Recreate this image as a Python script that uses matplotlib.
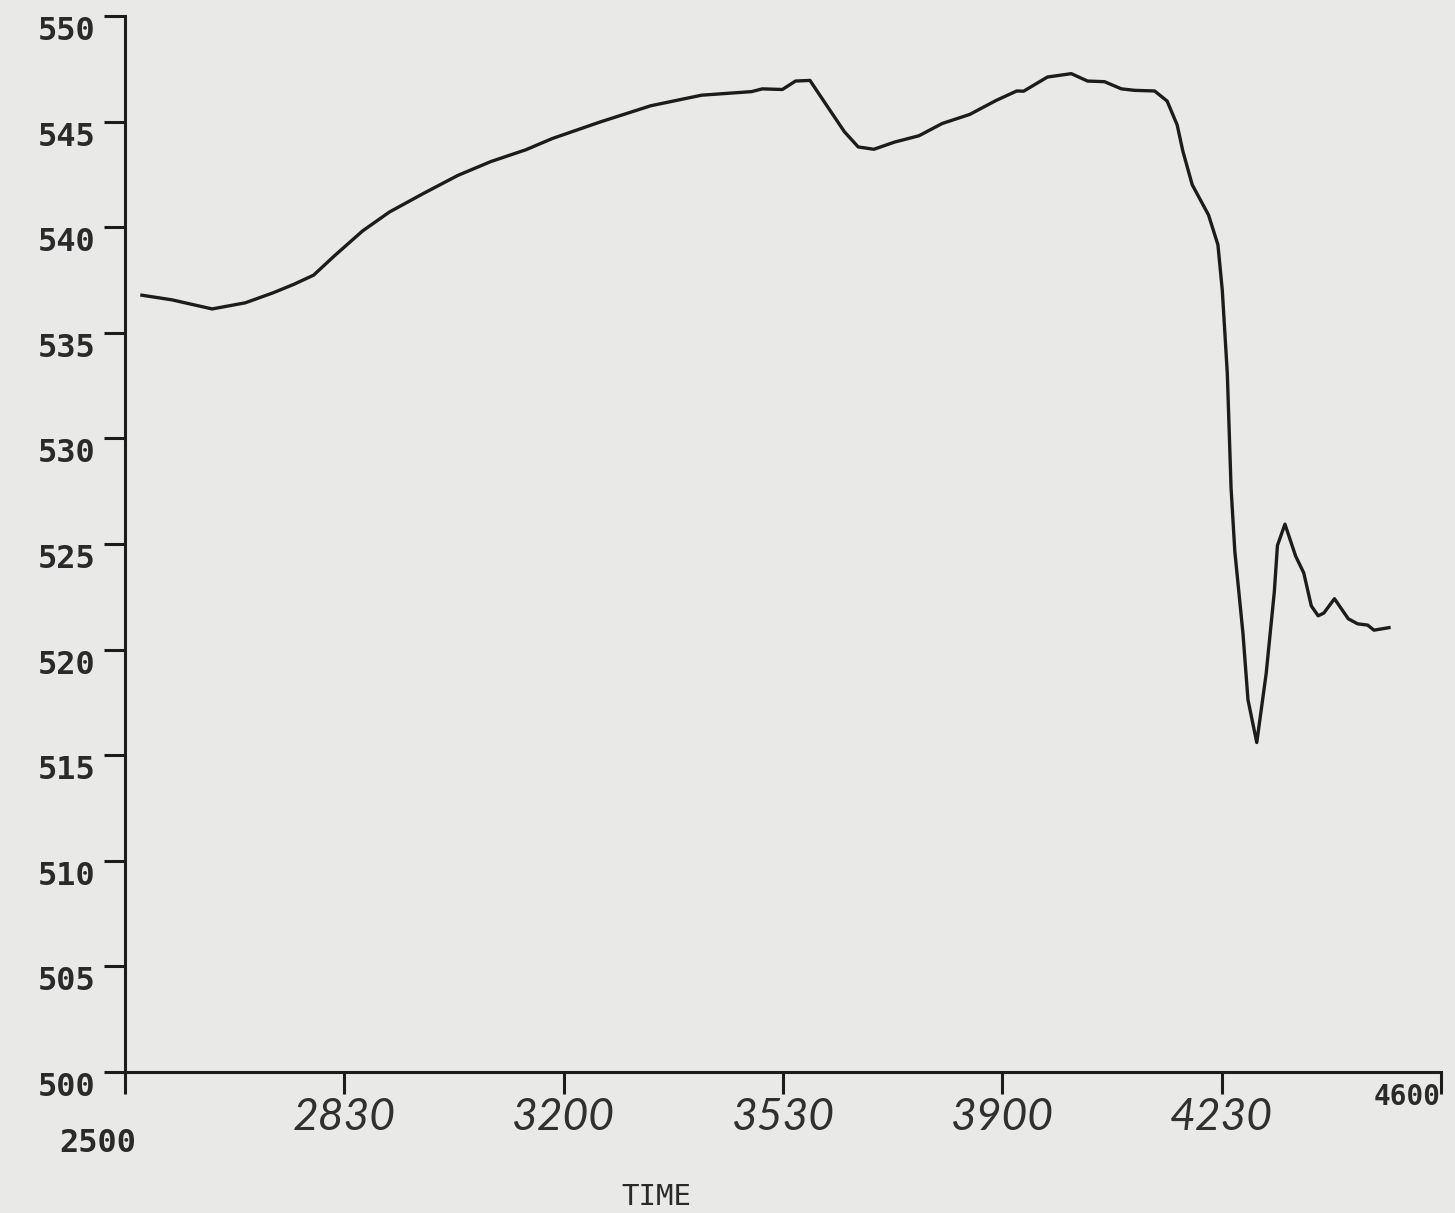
import matplotlib.pyplot as plt

# values (rotation of the scan removed)
time = [2527, 2575, 2639, 2692, 2736, 2769, 2801, 2834, 2879, 2922, 2977,
        3031, 3084, 3140, 3182, 3258, 3339, 3420, 3500, 3517, 3549, 3570,
        3593, 3623, 3648, 3670, 3695, 3728, 3767, 3804, 3848, 3890, 3923,
        3934, 3972, 4010, 4036, 4063, 4090, 4111, 4143, 4163, 4179, 4188,
        4203, 4229, 4244, 4251, 4259, 4265, 4271, 4284, 4292, 4306, 4321,
        4334, 4339, 4351, 4368, 4381, 4393, 4404, 4413, 4430, 4452, 4467,
        4483, 4493, 4517]
value = [536.78, 536.56, 536.13, 536.42, 536.89, 537.29, 537.73, 538.64,
         539.82, 540.72, 541.61, 542.45, 543.11, 543.67, 544.20, 544.98,
         545.75, 546.25, 546.42, 546.55, 546.52, 546.92, 546.95, 545.62,
         544.52, 543.80, 543.69, 544.03, 544.33, 544.91, 545.34, 546.00,
         546.45, 546.44, 547.11, 547.27, 546.92, 546.89, 546.55, 546.48,
         546.45, 545.97, 544.84, 543.61, 542.01, 540.58, 539.17, 537.01,
         533.08, 527.65, 524.65, 520.76, 517.62, 515.60, 518.86, 522.73,
         524.93, 525.94, 524.43, 523.63, 522.07, 521.60, 521.73, 522.41,
         521.46, 521.22, 521.16, 520.92, 521.04]

y_ticks = list(range(500, 551, 5))
x_ticks = [2500, 2850, 3200, 3550, 3900, 4250, 4600]
hand_labels = ["2830", "3200", "3530", "3900", "4230"]

INK = "#1c1c1c"
PAPER = "#e9e9e7"
MONO = "DejaVu Sans Mono"

fig = plt.figure(figsize=(14.55, 12.13), dpi=100, facecolor=PAPER)
ax = fig.add_axes([125 / 1455, 1 - 1072 / 1213, (1441 - 125) / 1455, (1072 - 16) / 1213])
ax.set_facecolor(PAPER)

ax.plot(time, value, color=INK, linewidth=2.4, solid_joinstyle="round")

ax.set_xlim(2500, 4600)
ax.set_ylim(500, 550)

for side in ("top", "right"):
    ax.spines[side].set_visible(False)
for side in ("left", "bottom"):
    ax.spines[side].set_color(INK)
    ax.spines[side].set_linewidth(2.2)

# y axis: plotter style labels hanging below each tick
ax.set_yticks(y_ticks)
ax.set_yticklabels([str(v) for v in y_ticks], fontfamily=MONO,
                   fontweight="bold", fontsize=23, color="#2a2a2a")
for lab in ax.get_yticklabels():
    lab.set_verticalalignment("top")
ax.tick_params(axis="y", direction="out", length=15, width=2.2,
               color=INK, pad=6)

# x axis: end values printed, inner values written in by hand
ax.set_xticks(x_ticks)
ax.set_xticklabels([""] + hand_labels + [""], fontfamily="Lato",
                   fontstyle="italic", fontsize=32, color="#303030")
ax.tick_params(axis="x", direction="out", length=16, width=2.2,
               color=INK, pad=2)

ax.annotate(str(x_ticks[0]), xy=(x_ticks[0], 0), xycoords=("data", "axes fraction"),
            xytext=(8, -40), textcoords="offset points", ha="right", va="top",
            fontfamily=MONO, fontweight="bold", fontsize=23, color="#2a2a2a")
ax.annotate(str(x_ticks[-1]), xy=(x_ticks[-1], 0), xycoords=("data", "axes fraction"),
            xytext=(0, -8), textcoords="offset points", ha="right", va="top",
            fontfamily=MONO, fontweight="bold", fontsize=20, color="#2a2a2a")

fig.text(656 / 1455, 1 - 1197 / 1213, "TIME", ha="center", va="center",
         fontfamily=MONO, fontsize=21, color="#2a2a2a")

fig.savefig("out.png", dpi=100, facecolor=PAPER)
plt.close(fig)
